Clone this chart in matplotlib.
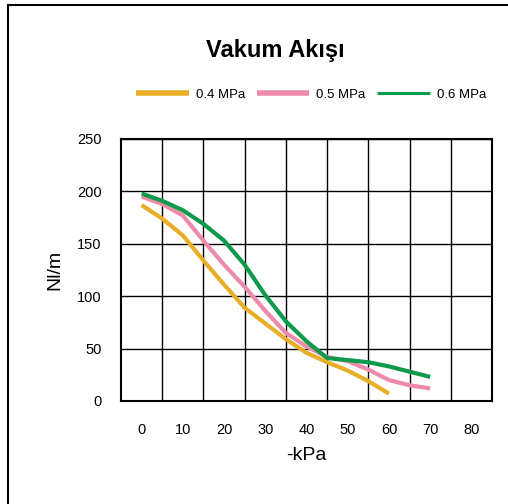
import matplotlib
matplotlib.use('Agg')
import matplotlib.pyplot as plt
from matplotlib.lines import Line2D

plt.rcParams['font.family'] = ['Liberation Sans', 'DejaVu Sans']

# vacuum level (-kPa) and flow (Nl/m)
x_04 = [0, 5, 10, 15, 20, 25, 30, 35, 40, 45, 50, 55, 60]
flow_04 = [187, 174, 158, 134, 111, 89, 74, 59, 46, 37, 29, 19, 7]

x_05 = [0, 5, 10, 15, 20, 25, 30, 35, 40, 45, 50, 55, 60, 65, 70]
flow_05 = [195, 188, 177, 153, 130, 109, 86, 65, 52, 42, 38, 30, 20, 15, 12]

x_06 = [0, 5, 10, 15, 20, 25, 30, 35, 40, 45, 50, 55, 60, 65, 70]
flow_06 = [198, 191, 182, 169, 153, 130, 101, 76, 57, 41, 39, 37, 33, 28, 23]

series_labels = ['0.4 MPa', '0.5 MPa', '0.6 MPa']
colors = ['#E8AE28', '#EE8AAA', '#0E9A4B']
legend_widths = [4, 4, 2.2]

x_ticks = [0, 10, 20, 30, 40, 50, 60, 70, 80]
y_ticks = [0, 50, 100, 150, 200, 250]

W, H = 508, 504
fig = plt.figure(figsize=(W / 100, H / 100), dpi=100)
ax = fig.add_axes([121 / W, 1 - 401 / H, (492 - 121) / W, (401 - 139) / H])

for xs, ys, c, lab in zip([x_04, x_05, x_06], [flow_04, flow_05, flow_06], colors, series_labels):
    ax.plot(xs, ys, color=c, linewidth=3, label=lab, solid_capstyle='butt')

ax.set_xlim(-5, 85)
ax.set_ylim(0, 250)
ax.set_xticks(x_ticks)
ax.set_xticks([v + 5 for v in x_ticks[:-1]], minor=True)
ax.set_yticks(y_ticks)
ax.tick_params(axis='both', which='both', length=0, labelsize=10.5)
ax.tick_params(axis='x', pad=16)
ax.tick_params(axis='y', pad=14)
ax.grid(True, which='minor', axis='x', color='black', linewidth=1)
ax.grid(True, which='major', axis='y', color='black', linewidth=1)
ax.set_axisbelow(True)
for s in ax.spines.values():
    s.set_linewidth(1.5)

ax.set_ylabel('Nl/m', fontsize=14, labelpad=10)
ax.set_xlabel('-kPa', fontsize=14, labelpad=7)

fig.text(275 / W, 1 - 50 / H, 'Vakum Akışı', fontsize=17, fontweight='bold',
         ha='center', va='center')

leg = ax.legend(loc='center', bbox_to_anchor=(311 / W, 1 - 95 / H),
                bbox_transform=fig.transFigure, ncol=3, frameon=False,
                fontsize=9.5, handlelength=4.0, handletextpad=0.5, columnspacing=0.9)
for h, lw in zip(leg.get_lines(), legend_widths):
    h.set_linewidth(lw)

# outer frame (left and top edges visible)
fig.add_artist(Line2D([7.5 / W, 7.5 / W], [0, 1 - 5 / H], color='black', linewidth=1.5))
fig.add_artist(Line2D([7.5 / W, 1], [1 - 5 / H, 1 - 5 / H], color='black', linewidth=1.5))

fig.savefig('out.png', dpi=100)
plt.close(fig)
